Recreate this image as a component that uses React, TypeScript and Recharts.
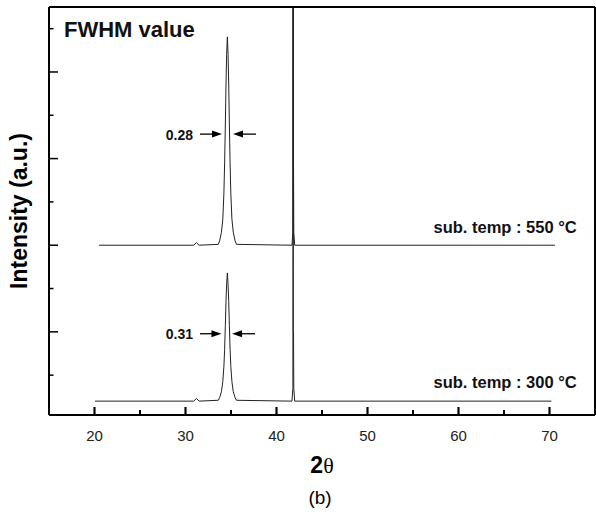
import { Label, Line, LineChart, ReferenceDot, ReferenceLine, XAxis, YAxis } from "recharts";

// 2θ scan, sub. temp 550 °C (upper trace)
const upperX = [20.5, 30.9, 31.2, 31.5, 33.6, 33.75, 33.95, 34.1, 34.22, 34.3, 34.38, 34.45, 34.52, 34.6, 34.68, 34.75, 34.82, 34.9, 34.98, 35.1, 35.25, 35.45, 35.6, 41.7, 41.8, 41.83, 41.85, 41.87, 41.9, 42.0, 70.6];
const upperY = [4.0, 4.0, 4.06, 4.0, 4.02, 4.1, 4.3, 4.6, 5.2, 5.9, 6.8, 7.7, 8.4, 8.81, 8.4, 7.7, 6.8, 5.9, 5.2, 4.6, 4.3, 4.1, 4.02, 4.0, 4.3, 12, 5.81, 5.81, 4.3, 4.0, 4.0];

// 2θ scan, sub. temp 300 °C (lower trace)
const lowerX = [20.05, 30.9, 31.2, 31.5, 33.6, 33.75, 33.95, 34.1, 34.22, 34.3, 34.38, 34.45, 34.52, 34.6, 34.68, 34.75, 34.82, 34.9, 34.98, 35.1, 35.25, 35.45, 35.6, 41.7, 41.8, 41.83, 41.85, 41.87, 41.9, 42.0, 70.2];
const lowerY = [0.4, 0.4, 0.46, 0.4, 0.42, 0.48, 0.62, 0.85, 1.2, 1.6, 2.15, 2.7, 3.1, 3.36, 3.1, 2.7, 2.15, 1.6, 1.2, 0.85, 0.62, 0.48, 0.42, 0.4, 0.7, 12, 2.0, 2.0, 0.7, 0.4, 0.4];

const xTicks = [20, 25, 30, 35, 40, 45, 50, 55, 60, 65, 70];
const yTicks = [1, 2, 3, 4, 5, 6, 7, 8, 9];
const Y_MIN = 0.08;
const Y_MAX = 9.5;

const upperData = upperX.map((x, i) => ({ x, y: upperY[i] }));
const lowerData = lowerX.map((x, i) => ({ x, y: lowerY[i] }));

const FONT = "'Liberation Sans', Arial, Helvetica, sans-serif";
const FRAME = { stroke: "#000", strokeWidth: 2 };

const renderXTick = (props: any) => {
  const { x, y, payload } = props;
  const major = payload.value % 10 === 0;
  return (
    <g key={`xt-${payload.value}`}>
      <path d={`M${x},${y}L${x},${y - (major ? 8 : 5)}`} stroke="#000" strokeWidth={1.5} fill="none" />
      {major && (
        <text x={x} y={y + 26} textAnchor="middle" fontSize={15} fontFamily={FONT} fill="#222">
          {payload.value}
        </text>
      )}
    </g>
  );
};

const renderYTick = (props: any) => {
  const { x, y, payload } = props;
  const major = payload.value % 2 === 0;
  return (
    <path key={`yt-${payload.value}`} d={`M${x},${y}L${x + (major ? 9 : 4.5)},${y}`} stroke="#000" strokeWidth={1.5} fill="none" />
  );
};

// inward tick mark drawn up from the bottom frame
const tickMark = (len: number) => (p: any) => (
  <path d={`M${p.cx},${p.cy}L${p.cx},${p.cy - len}`} stroke="#000" strokeWidth={1.5} fill="none" />
);

function XTitle(props: any) {
  const { x, y, width } = props.viewBox;
  const cx = x + width / 2;
  return (
    <g>
      <text x={cx} y={y + 58} textAnchor="middle" fill="#000">
        <tspan fontFamily={FONT} fontWeight="bold" fontSize={23}>2</tspan>
        <tspan fontFamily="'Liberation Serif', 'DejaVu Serif', serif" fontSize={22}>θ</tspan>
      </text>
      <text x={cx - 2} y={y + 89} textAnchor="middle" fontFamily={FONT} fontSize={19} fill="#000">
        (b)
      </text>
    </g>
  );
}

function YTitle(props: any) {
  const { x, y, width, height } = props.viewBox;
  const tx = x + width - 22;
  const ty = y + height / 2;
  return (
    <text
      x={tx}
      y={ty}
      transform={`rotate(-90, ${tx}, ${ty})`}
      textAnchor="middle"
      fontFamily={FONT}
      fontWeight="bold"
      fontSize={23}
      fill="#000"
    >
      Intensity (a.u.)
    </text>
  );
}

function Arrow(props: any) {
  const { x1, y1, x2, y2 } = props;
  const dir = x2 > x1 ? 1 : -1;
  return (
    <g>
      <line x1={x1} y1={y1} x2={x2 - dir * 6} y2={y2} stroke="#000" strokeWidth={1.3} />
      <polygon points={`${x2},${y2} ${x2 - dir * 10},${y2 - 3.5} ${x2 - dir * 10},${y2 + 3.5}`} fill="#000" />
    </g>
  );
}

const textShape = (text: string, anchor: "start" | "end", size: number) => (p: any) => (
  <text x={p.cx} y={p.cy} textAnchor={anchor} fontFamily={FONT} fontWeight="bold" fontSize={size} fill="#111">
    {text}
  </text>
);

export default function App() {
  return (
    <div style={{ position: "absolute", left: 0, top: 0 }}>
      <LineChart width={596} height={521} margin={{ top: 6, right: 0, bottom: 76, left: 29 }}>
        <XAxis
          type="number"
          dataKey="x"
          domain={[15, 75]}
          ticks={xTicks}
          height={30}
          tickSize={0}
          tickMargin={0}
          axisLine={FRAME}
          tick={renderXTick}
        >
          <Label content={<XTitle />} />
        </XAxis>
        <XAxis xAxisId="top" orientation="top" type="number" domain={[15, 75]} height={1} tick={false} tickLine={false} axisLine={FRAME} />
        <YAxis
          type="number"
          dataKey="y"
          domain={[Y_MIN, Y_MAX]}
          ticks={yTicks}
          width={20}
          tickSize={0}
          tickMargin={0}
          axisLine={FRAME}
          tick={renderYTick}
          allowDataOverflow
        >
          <Label content={<YTitle />} />
        </YAxis>
        <YAxis yAxisId="right" orientation="right" type="number" domain={[Y_MIN, Y_MAX]} width={1} tick={false} tickLine={false} axisLine={FRAME} />
        {xTicks.map((v) => (
          <ReferenceDot
            key={`xd-${v}`}
            x={v}
            y={Y_MIN}
            ifOverflow="visible"
            shape={tickMark(v % 10 === 0 ? 8 : 5)}
          />
        ))}
        {xTicks.map((v) => (
          <ReferenceLine
            key={`xl-${v}`}
            segment={[{ x: v, y: Y_MIN }, { x: v, y: Y_MIN + (v % 10 === 0 ? 0.185 : 0.115) }]}
            ifOverflow="visible"
            stroke="#000"
            strokeWidth={1.5}
          />
        ))}
        <Line data={lowerData} dataKey="y" type="linear" stroke="#222" strokeWidth={1} dot={false} isAnimationActive={false} />
        <Line data={upperData} dataKey="y" type="linear" stroke="#222" strokeWidth={1} dot={false} isAnimationActive={false} />
        <ReferenceLine segment={[{ x: 31.59, y: 6.565 }, { x: 34.01, y: 6.565 }]} shape={<Arrow />} />
        <ReferenceLine segment={[{ x: 37.75, y: 6.565 }, { x: 35.22, y: 6.565 }]} shape={<Arrow />} />
        <ReferenceLine segment={[{ x: 31.59, y: 1.956 }, { x: 33.95, y: 1.956 }]} shape={<Arrow />} />
        <ReferenceLine segment={[{ x: 37.65, y: 1.956 }, { x: 35.12, y: 1.956 }]} shape={<Arrow />} />
        <ReferenceDot x={30.82} y={6.44} shape={textShape("0.28", "end", 14)} />
        <ReferenceDot x={30.82} y={1.834} shape={textShape("0.31", "end", 14)} />
        <ReferenceDot x={16.65} y={8.797} shape={textShape("FWHM value", "start", 22)} />
        <ReferenceDot x={72.99} y={4.273} shape={textShape("sub. temp : 550 °C", "end", 16.5)} />
        <ReferenceDot x={72.99} y={0.703} shape={textShape("sub. temp : 300 °C", "end", 16.5)} />
      </LineChart>
    </div>
  );
}
